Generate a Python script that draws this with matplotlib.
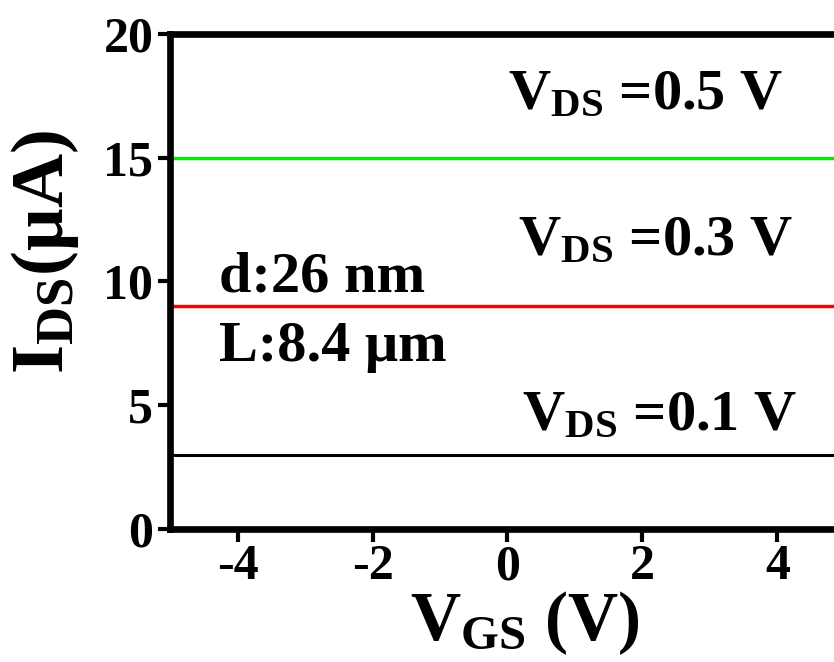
import matplotlib
matplotlib.use("Agg")
import matplotlib.pyplot as plt

plt.rcParams['font.family'] = 'Liberation Serif'
plt.rcParams['font.weight'] = 'bold'
plt.rcParams['mathtext.fontset'] = 'custom'
plt.rcParams['mathtext.rm'] = 'Liberation Serif:bold'
plt.rcParams['mathtext.bf'] = 'Liberation Serif:bold'
plt.rcParams['mathtext.it'] = 'Liberation Serif:bold'

# Gate sweep and drain currents at three drain biases
vgs = [-5, 5]
ids_01 = [3, 3]
ids_03 = [9, 9]
ids_05 = [15, 15]
series = [
    (ids_01, 'black', r'$\mathbf{V_{DS}}$ =0.1 V', 0.22, 3.98, 2.2),
    (ids_03, '#ff0000', r'$\mathbf{V_{DS}}$ =0.3 V', 0.16, 11.06, 2.5),
    (ids_05, '#00ee00', r'$\mathbf{V_{DS}}$ =0.5 V', 0.01, 16.95, 2.5),
]
xticks = [-4, -2, 0, 2, 4]
yticks = [0, 5, 10, 15, 20]

W, H = 834, 662
fig = plt.figure(figsize=(W / 100, H / 100), dpi=100)
ax = fig.add_axes([170 / W, 1 - 529 / H, 675 / W, (529 - 34) / H])

for y, c, label, tx, ty, lw in series:
    ax.plot(vgs, y, color=c, lw=lw, solid_capstyle='butt')
    ax.text(tx, ty, label, fontsize=42, fontweight='bold', ha='left', va='baseline')

ax.text(-4.28, 9.6, 'd:26 nm', fontsize=42, fontweight='bold', va='baseline')
ax.text(-4.28, 6.8, 'L:8.4 μm', fontsize=42, fontweight='bold', va='baseline')

ax.set_xlim(-5, 5)
ax.set_ylim(0, 20)
ax.set_xticks(xticks)
ax.set_yticks(yticks)
ax.set_xticklabels([str(t) for t in xticks])
ax.set_yticklabels([str(t) for t in yticks])
for s in ax.spines.values():
    s.set_linewidth(4.8)
ax.tick_params(direction='out', length=9, width=3, labelsize=36)
ax.tick_params(axis='x', pad=2)
ax.tick_params(axis='y', pad=3)
for lab in ax.get_xticklabels() + ax.get_yticklabels():
    lab.set_fontweight('bold')

ax.set_xlabel(r'$\mathbf{V_{GS}}$ (V)', fontsize=50, fontweight='bold', va='baseline')
ax.xaxis.set_label_coords((525 - 170) / 675, (529 - 640) / 495)
ax.set_ylabel(r'$\mathbf{I_{DS}}$($\mathbf{\mu}$A)', fontsize=54, fontweight='bold',
              va='baseline', ha='center', rotation_mode='anchor')
ax.yaxis.set_label_coords((63 - 170) / 675, (529 - 252) / 495)

fig.savefig('out.png', dpi=100)
